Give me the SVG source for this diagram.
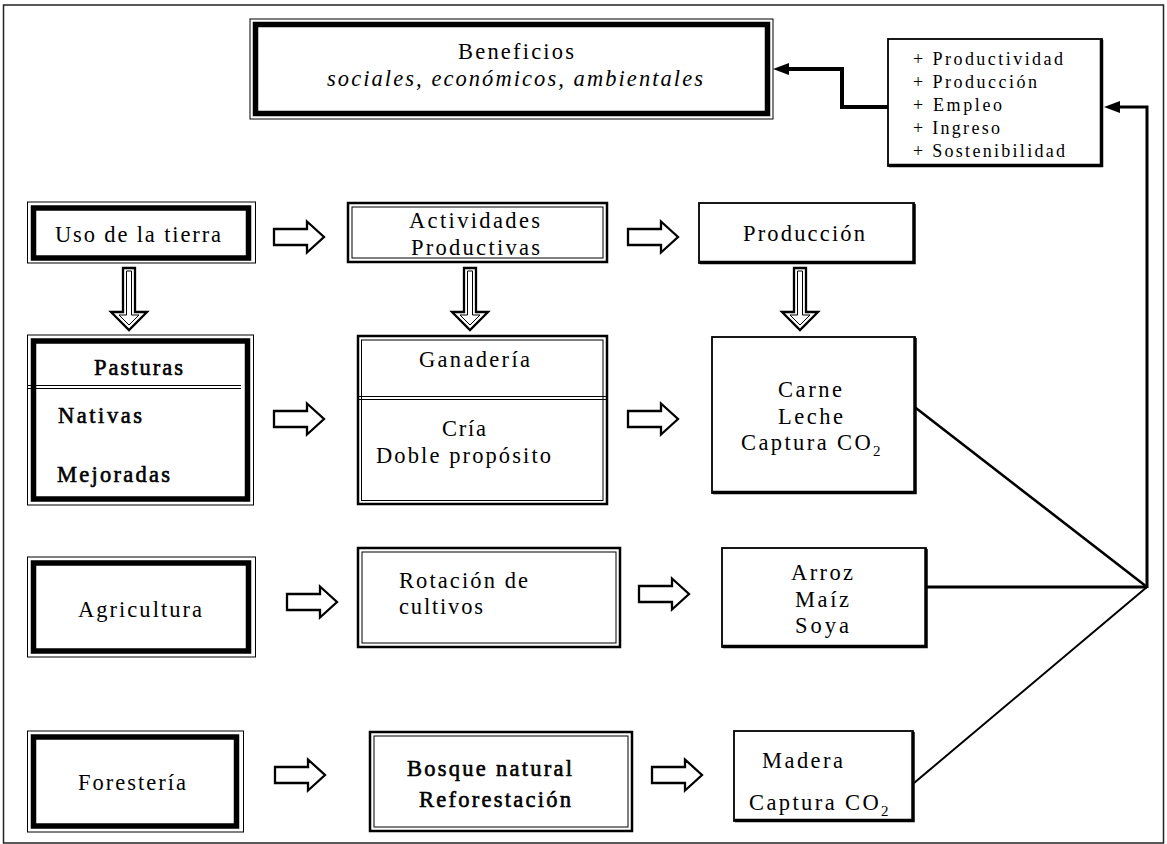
<svg xmlns="http://www.w3.org/2000/svg" xmlns:xlink="http://www.w3.org/1999/xlink" width="1167" height="844" viewBox="0 0 1167 844">
<defs>
<style>
.bg{fill:#fff}
.frame{fill:none;stroke:#222;stroke-width:1.5}
.thin{fill:#fff;stroke:#000;stroke-width:1}
.thick{fill:none;stroke:#000;stroke-width:5.5}
.dbo{fill:#fff;stroke:#000;stroke-width:2.5}
.dbi{fill:none;stroke:#000;stroke-width:1}
.sgl{fill:#fff;stroke:#000;stroke-width:1.8}
.shd{fill:none;stroke:#000;stroke-width:3.5}
.div{stroke:#000;stroke-width:1.2}
.t{font-family:"Liberation Serif","Times New Roman",serif;font-size:22.5px;fill:#000}
.b{stroke:#000;stroke-width:0.6}
.s{font-size:18px}
.i{font-style:italic}
.harr{fill:#fff;stroke:#000;stroke-width:2.3;stroke-linejoin:miter}
.varr{fill:#fff;stroke:#000;stroke-width:2.3;stroke-linejoin:miter}
.varri{fill:none;stroke:#000;stroke-width:1}
.con{fill:none;stroke:#000;stroke-linejoin:miter}
</style>
<polygon id="ha" class="harr" points="0,-8 33,-8 33,-15.5 50,0 33,15.5 33,8 0,8"/>
<g id="va">
<polygon class="varr" points="-6,0 6,0 6,44 18,44 0,62 -18,44 -6,44"/>
<polygon class="varri" points="-2.5,3 2.5,3 2.5,47 10,47 0,57 -10,47 -2.5,47"/>
</g>
<marker id="ah" markerUnits="userSpaceOnUse" markerWidth="18" markerHeight="14" refX="0" refY="7" orient="auto" viewBox="0 0 18 14">
<path d="M0,1 L16,7 L0,13 Z" fill="#000"/>
</marker>
</defs>
<rect class="bg" x="0" y="0" width="1167" height="844"/>
<rect class="frame" x="3.5" y="5" width="1160" height="838"/>

<g id="connectors">
<polyline class="con" stroke-width="4" points="888,107 842,107 842,69 789,69" marker-end="url(#ah)"/>
<polyline class="con" stroke-width="3" points="1147,588 1147,107 1120,107" marker-end="url(#ah)"/>
<line class="con" stroke-width="2.6" x1="912" y1="405" x2="1147" y2="587"/>
<line class="con" stroke-width="3" x1="927" y1="587" x2="1147" y2="587"/>
<line class="con" stroke-width="2" x1="914" y1="783" x2="1147" y2="587"/>
<use href="#ha" x="274" y="237"/>
<use href="#ha" x="628" y="237"/>
<use href="#ha" x="274" y="419"/>
<use href="#ha" x="628" y="419"/>
<use href="#ha" x="287" y="602"/>
<use href="#ha" x="639" y="594"/>
<use href="#ha" x="275" y="775"/>
<use href="#ha" x="652" y="775"/>
<use href="#va" x="129" y="268"/>
<use href="#va" x="470" y="268"/>
<use href="#va" x="800" y="268"/>
</g>

<g id="beneficios">
<rect class="thin" x="250" y="19" width="523" height="100"/>
<rect class="thick" x="255.5" y="24.5" width="512" height="89"/>
<text class="t" x="458" y="59" textLength="116" lengthAdjust="spacing">Beneficios</text>
<text class="t i" x="327" y="86" textLength="376" lengthAdjust="spacing">sociales, económicos, ambientales</text>
</g>

<g id="indicadores">
<rect class="sgl" x="888" y="39" width="214" height="127"/>
<path class="shd" d="M1101.5,40 V165.5 H889"/>
<text class="t s" x="913" y="65" textLength="150" lengthAdjust="spacing">+ Productividad</text>
<text class="t s" x="913" y="88" textLength="124" lengthAdjust="spacing">+ Producción</text>
<text class="t s" x="913" y="111" textLength="89" lengthAdjust="spacing">+ Empleo</text>
<text class="t s" x="913" y="134" textLength="87" lengthAdjust="spacing">+ Ingreso</text>
<text class="t s" x="913" y="157" textLength="152" lengthAdjust="spacing">+ Sostenibilidad</text>
</g>

<g id="uso">
<rect class="thin" x="27.5" y="202" width="228" height="61"/>
<rect class="thick" x="33.5" y="208" width="215" height="50"/>
<text class="t" x="55" y="242" textLength="166" lengthAdjust="spacing">Uso de la tierra</text>
</g>

<g id="actividades">
<rect class="dbo" x="348" y="203" width="259" height="59"/>
<rect class="dbi" x="352" y="207" width="251" height="51"/>
<text class="t" x="409" y="228" textLength="131" lengthAdjust="spacing">Actividades</text>
<text class="t" x="411" y="255" textLength="129" lengthAdjust="spacing">Productivas</text>
</g>

<g id="produccion">
<rect class="sgl" x="699" y="203" width="215" height="60"/>
<path class="shd" d="M914,204 V262.5 H700"/>
<text class="t" x="743" y="241" textLength="122" lengthAdjust="spacing">Producción</text>
</g>

<g id="pasturas">
<rect class="thin" x="27.5" y="335" width="226" height="170"/>
<rect class="thick" x="33.5" y="341" width="214" height="158"/>
<line class="div" x1="28" y1="385.5" x2="241" y2="385.5"/>
<line class="div" x1="28" y1="388.5" x2="241" y2="388.5"/>
<text class="t b" x="94" y="375" textLength="89" lengthAdjust="spacing">Pasturas</text>
<text class="t b" x="58" y="423" textLength="84" lengthAdjust="spacing">Nativas</text>
<text class="t b" x="57" y="482" textLength="113" lengthAdjust="spacing">Mejoradas</text>
</g>

<g id="ganaderia">
<rect class="dbo" x="358" y="336" width="249" height="168"/>
<rect class="dbi" x="361.5" y="340" width="241.5" height="160.5"/>
<line class="div" x1="358" y1="396.5" x2="607" y2="396.5"/>
<line class="div" x1="358" y1="399.5" x2="607" y2="399.5"/>
<text class="t" x="419" y="367" textLength="111" lengthAdjust="spacing">Ganadería</text>
<text class="t" x="442" y="436" textLength="44" lengthAdjust="spacing">Cría</text>
<text class="t" x="376" y="463" textLength="175" lengthAdjust="spacing">Doble propósito</text>
</g>

<g id="carne">
<rect class="sgl" x="712" y="337" width="203" height="156"/>
<path class="shd" d="M915,338 V492.5 H713"/>
<text class="t" x="778" y="397" textLength="64" lengthAdjust="spacing">Carne</text>
<text class="t" x="778" y="424" textLength="65" lengthAdjust="spacing">Leche</text>
<text class="t" x="741" y="450" letter-spacing="2.4">Captura CO<tspan font-size="15" dy="6">2</tspan></text>
</g>

<g id="agricultura">
<rect class="thin" x="27.5" y="557" width="228" height="100"/>
<rect class="thick" x="33.5" y="563" width="215" height="88"/>
<text class="t" x="78" y="617" textLength="124" lengthAdjust="spacing">Agricultura</text>
</g>

<g id="rotacion">
<rect class="dbo" x="358" y="548" width="262" height="99"/>
<rect class="dbi" x="362" y="552" width="254" height="91"/>
<text class="t" x="399" y="588" textLength="129" lengthAdjust="spacing">Rotación de</text>
<text class="t" x="399" y="614" textLength="84" lengthAdjust="spacing">cultivos</text>
</g>

<g id="arroz">
<rect class="sgl" x="722" y="548" width="204" height="99"/>
<path class="shd" d="M926,549 V646.5 H723"/>
<text class="t" x="791" y="580" textLength="62" lengthAdjust="spacing">Arroz</text>
<text class="t" x="795" y="607" textLength="54" lengthAdjust="spacing">Maíz</text>
<text class="t" x="795" y="633" textLength="54" lengthAdjust="spacing">Soya</text>
</g>

<g id="foresteria">
<rect class="thin" x="27.5" y="731" width="216" height="101"/>
<rect class="thick" x="33.5" y="737" width="203" height="89"/>
<text class="t" x="78" y="790" textLength="108" lengthAdjust="spacing">Forestería</text>
</g>

<g id="bosque">
<rect class="dbo" x="370" y="732" width="262" height="99"/>
<rect class="dbi" x="374" y="736" width="254" height="91"/>
<text class="t b" x="407" y="776" textLength="165" lengthAdjust="spacing">Bosque natural</text>
<text class="t b" x="419" y="807" textLength="152" lengthAdjust="spacing">Reforestación</text>
</g>

<g id="madera">
<rect class="sgl" x="734" y="731" width="179" height="90"/>
<path class="shd" d="M913,732 V820.5 H735"/>
<text class="t" x="762" y="768" textLength="81" lengthAdjust="spacing">Madera</text>
<text class="t" x="749" y="810" letter-spacing="2.4">Captura CO<tspan font-size="15" dy="6">2</tspan></text>
</g>
</svg>
